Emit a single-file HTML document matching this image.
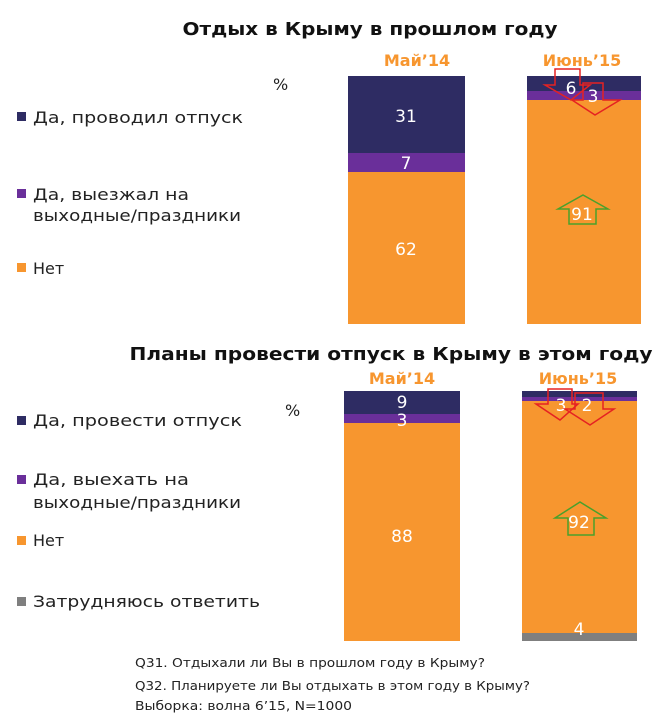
<!DOCTYPE html>
<html><head><meta charset="utf-8"><style>body{margin:0;background:#fff}svg{display:block}</style></head><body>
<svg width="670" height="714" xmlns="http://www.w3.org/2000/svg" font-family="DejaVu Sans, Liberation Sans, sans-serif">
<text x="370" y="35" text-anchor="middle" font-size="18" font-weight="bold" fill="#111" textLength="375" lengthAdjust="spacingAndGlyphs">Отдых в Крыму в прошлом году</text>
<text x="391" y="360" text-anchor="middle" font-size="18" font-weight="bold" fill="#111" textLength="523" lengthAdjust="spacingAndGlyphs">Планы провести отпуск в Крыму в этом году</text>
<g font-size="16" font-weight="bold" fill="#f7962f" text-anchor="middle">
<text x="417" y="66">Май’14</text><text x="582" y="66">Июнь’15</text>
<text x="402" y="384">Май’14</text><text x="578" y="384">Июнь’15</text></g>
<g font-size="16" fill="#222">
<text x="273" y="90">%</text><text x="285" y="416">%</text>
<text x="33" y="123" textLength="210" lengthAdjust="spacingAndGlyphs">Да, проводил  отпуск</text>
<text x="33" y="200" textLength="156" lengthAdjust="spacingAndGlyphs">Да, выезжал  на</text>
<text x="33" y="221" textLength="208" lengthAdjust="spacingAndGlyphs">выходные/праздники</text>
<text x="33" y="274">Нет</text>
<text x="33" y="426" textLength="209" lengthAdjust="spacingAndGlyphs">Да, провести отпуск</text>
<text x="33" y="485" textLength="156" lengthAdjust="spacingAndGlyphs">Да, выехать  на</text>
<text x="33" y="508" textLength="208" lengthAdjust="spacingAndGlyphs">выходные/праздники</text>
<text x="33" y="546">Нет</text>
<text x="33" y="607" textLength="227" lengthAdjust="spacingAndGlyphs">Затрудняюсь ответить</text>
</g>
<rect x="17" y="112" width="9" height="9" fill="#2e2c63"/>
<rect x="17" y="189" width="9" height="9" fill="#6a2f9a"/>
<rect x="17" y="263" width="9" height="9" fill="#f7962f"/>
<rect x="17" y="416" width="9" height="9" fill="#2e2c63"/>
<rect x="17" y="475" width="9" height="9" fill="#6a2f9a"/>
<rect x="17" y="536" width="9" height="9" fill="#f7962f"/>
<rect x="17" y="597" width="9" height="9" fill="#7f7f7f"/>
<rect x="348" y="76" width="117" height="77" fill="#2e2c63"/>
<rect x="348" y="153" width="117" height="19" fill="#6a2f9a"/>
<rect x="348" y="172" width="117" height="152" fill="#f7962f"/>
<rect x="527" y="76" width="114" height="15" fill="#2e2c63"/>
<rect x="527" y="91" width="114" height="9" fill="#6a2f9a"/>
<rect x="527" y="100" width="114" height="224" fill="#f7962f"/>
<rect x="344" y="391" width="116" height="23" fill="#2e2c63"/>
<rect x="344" y="414" width="116" height="9" fill="#6a2f9a"/>
<rect x="344" y="423" width="116" height="218" fill="#f7962f"/>
<rect x="522" y="391" width="115" height="6" fill="#2e2c63"/>
<rect x="522" y="397" width="115" height="4" fill="#6a2f9a"/>
<rect x="522" y="401" width="115" height="232" fill="#f7962f"/>
<rect x="522" y="633" width="115" height="8" fill="#7f7f7f"/>
<g font-size="17" fill="#fff" text-anchor="middle">
<text x="406" y="122">31</text><text x="406" y="169">7</text><text x="406" y="255">62</text>
<text x="571" y="94">6</text><text x="593" y="102">3</text><text x="582" y="220">91</text>
<text x="402" y="408">9</text><text x="402" y="426">3</text><text x="402" y="542">88</text>
<text x="561" y="411">3</text><text x="587" y="411">2</text><text x="579" y="528">92</text><text x="579" y="635">4</text>
</g>
<g fill="none" stroke-width="1.5">
<path d="M555 69 H580 V85 H590 L571 100 L545 85 H555 Z" stroke="#e52222"/>
<path d="M583 83 H603 V100 H620 L595 115 L572 100 H583 Z" stroke="#e52222"/>
<path d="M583 195 L608 209 H596 V224 H569 V209 H558 Z" stroke="#4aa02c"/>
<path d="M548 389 H572 V404 H578 L560 420 L536 404 H548 Z" stroke="#e52222"/>
<path d="M575 393 H603 V409 H614 L590 425 L565 409 H575 Z" stroke="#e52222"/>
<path d="M580 502 L606 518 H594 V535 H568 V518 H555 Z" stroke="#4aa02c"/>
</g>
<g font-size="12.5" fill="#222">
<text x="135" y="667" textLength="350" lengthAdjust="spacingAndGlyphs">Q31. Отдыхали ли Вы в прошлом году в Крыму?</text>
<text x="135" y="690" textLength="395" lengthAdjust="spacingAndGlyphs">Q32. Планируете ли Вы отдыхать в этом году в Крыму?</text>
<text x="135" y="710" textLength="217" lengthAdjust="spacingAndGlyphs">Выборка: волна 6’15, N=1000</text>
</g>
</svg>
</body></html>
